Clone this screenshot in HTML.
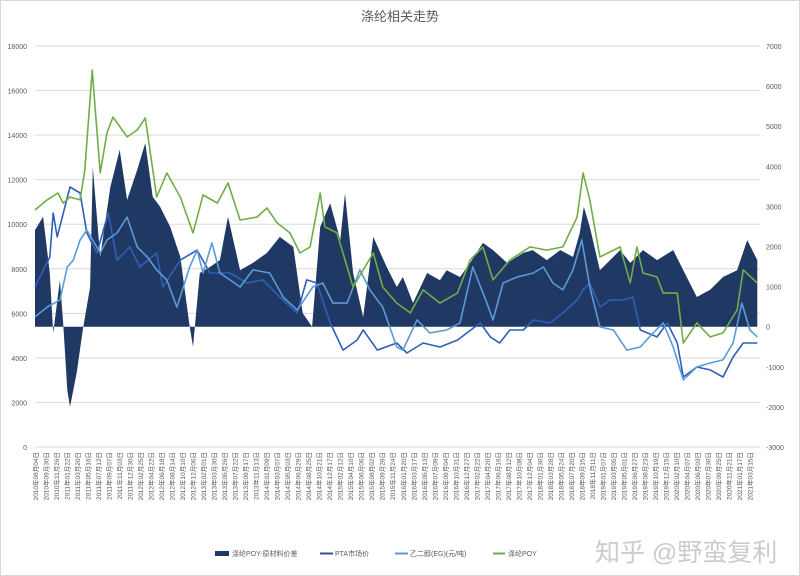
<!DOCTYPE html>
<html><head><meta charset="utf-8"><style>
html,body{margin:0;padding:0;background:#fff;}
#wrap{position:relative;width:800px;height:576px;overflow:hidden;font-family:"Liberation Sans","Noto Sans CJK SC",sans-serif;}
svg text{font-family:"Liberation Sans","Noto Sans CJK SC",sans-serif;}
</style></head><body>
<div id="wrap">
<svg id="chart" width="800" height="576">
<rect x="0.5" y="0.5" width="799" height="575" fill="#fff" stroke="#d9d9d9"/>
<text x="400" y="21" text-anchor="middle" font-size="13" fill="#595959">涤纶相关走势</text>
<g id="grid"></g>
<g id="area"></g>
<g id="lines"></g>
<g id="yl"></g>
<g id="yr"></g>
<g id="xl"></g>
<g>
 <g><rect x="215" y="551" width="14" height="5" fill="#203864"/><text x="232" y="556" font-size="7" fill="#595959">涤纶POY-原材料价差</text></g>
 <g><line x1="320" y1="553.5" x2="333" y2="553.5" stroke="#2f5597" stroke-width="2"/><text x="335" y="556" font-size="7" fill="#595959">PTA市场价</text></g>
 <g><line x1="395" y1="553.5" x2="408" y2="553.5" stroke="#5b9bd5" stroke-width="2"/><text x="410" y="556" font-size="7" fill="#595959">乙二醇(EG)(元/吨)</text></g>
 <g><line x1="493" y1="553.5" x2="505" y2="553.5" stroke="#70ad47" stroke-width="2"/><text x="508" y="556" font-size="7" fill="#595959">涤纶POY</text></g>
</g>
<text x="595" y="561" font-size="25" fill="rgba(140,140,140,0.45)">知乎 @野蛮复利</text>
</svg>
</div>
<script>
const leftTicks=[0,2000,4000,6000,8000,10000,12000,14000,16000,18000];
const rightTicks=[-3000,-2000,-1000,0,1000,2000,3000,4000,5000,6000,7000];
const poyYears=[2010.59,2010.77,2010.93,2011.01,2011.11,2011.26,2011.33,2011.44,2011.56,2011.66,2011.75,2011.96,2012.11,2012.23,2012.40,2012.55,2012.75,2012.94,2013.09,2013.30,2013.46,2013.64,2013.89,2014.04,2014.19,2014.38,2014.53,2014.68,2014.83,2014.90,2015.08,2015.32,2015.62,2015.76,2015.97,2016.17,2016.36,2016.61,2016.87,2017.06,2017.25,2017.40,2017.65,2017.95,2018.20,2018.44,2018.65,2018.74,2018.84,2018.99,2019.29,2019.44,2019.54,2019.63,2019.84,2019.93,2020.14,2020.23,2020.43,2020.63,2020.82,2021.03,2021.12,2021.33];
const poyValues=[10640,11090,11400,10950,11220,11090,12430,16920,12300,14100,14810,13920,14230,14770,11220,12300,11220,9610,11310,10950,11850,10190,10320,10730,10060,9610,8710,8980,11400,9880,9610,7180,8710,7180,6460,6020,7050,6460,6910,8390,8980,7500,8390,8980,8840,8980,10320,12300,11090,8530,8980,7360,8980,7810,7630,6910,6910,4670,5570,4940,5120,6150,7950,7360];
const ptaYears=[2010.59,2010.81,2010.86,2010.92,2011.11,2011.26,2011.36,2011.51,2011.68,2011.81,2012.00,2012.15,2012.40,2012.49,2012.75,2013.00,2013.19,2013.49,2013.74,2013.98,2014.23,2014.49,2014.63,2014.78,2014.98,2015.17,2015.38,2015.47,2015.68,2015.97,2016.12,2016.36,2016.61,2016.87,2017.21,2017.36,2017.50,2017.65,2017.85,2018.00,2018.25,2018.44,2018.65,2018.74,2018.84,2018.99,2019.14,2019.33,2019.48,2019.59,2019.84,2019.99,2020.14,2020.23,2020.43,2020.63,2020.82,2020.97,2021.12,2021.33];
const ptaValues=[7180,8530,10500,9430,11670,11400,9610,8710,10500,8390,8980,8080,8710,7180,8390,8840,7810,7810,7360,7500,6730,6020,7500,7360,5570,4350,4800,5250,4350,4670,4220,4670,4490,4800,5570,4940,4670,5250,5250,5700,5570,6020,6600,7050,7360,6280,6600,6600,6730,5250,4940,5570,4670,3140,3590,3460,3140,4040,4670,4670];
const egYears=[2010.59,2010.77,2010.96,2011.07,2011.16,2011.26,2011.36,2011.45,2011.56,2011.66,2011.81,2011.96,2012.11,2012.26,2012.40,2012.55,2012.70,2012.89,2013.00,2013.09,2013.22,2013.34,2013.49,2013.64,2013.83,2014.08,2014.28,2014.49,2014.72,2014.87,2015.02,2015.23,2015.42,2015.57,2015.76,2015.97,2016.06,2016.27,2016.46,2016.71,2016.91,2017.10,2017.31,2017.40,2017.55,2017.76,2018.00,2018.15,2018.29,2018.44,2018.59,2018.72,2018.84,2018.99,2019.19,2019.39,2019.59,2019.78,2019.93,2020.08,2020.23,2020.43,2020.63,2020.82,2020.97,2021.10,2021.22,2021.33];
const egValues=[5840,6280,6600,8080,8390,9290,9740,9290,8710,9290,9610,10320,8980,8530,7950,7500,6280,8080,8840,7810,9160,7810,7500,7180,7950,7810,6730,6150,7180,7360,6460,6460,7950,7050,6280,4490,4350,5700,5120,5250,5570,8080,6460,5700,7360,7630,7810,8080,7360,7050,7950,9290,7180,5390,5250,4350,4490,5120,5570,4490,3010,3590,3770,3910,4670,6460,5250,4940];
const spreadYears=[2010.59,2010.71,2010.81,2010.86,2010.96,2011.01,2011.07,2011.11,2011.21,2011.30,2011.41,2011.45,2011.56,2011.71,2011.85,2011.96,2012.11,2012.23,2012.34,2012.45,2012.60,2012.75,2012.89,2012.94,2013.04,2013.19,2013.34,2013.46,2013.64,2013.83,2014.04,2014.23,2014.43,2014.57,2014.71,2014.83,2014.98,2015.13,2015.20,2015.32,2015.47,2015.62,2015.82,2015.97,2016.06,2016.21,2016.42,2016.61,2016.71,2016.91,2017.06,2017.25,2017.40,2017.61,2017.85,2017.99,2018.20,2018.40,2018.59,2018.69,2018.75,2018.84,2018.99,2019.29,2019.44,2019.63,2019.84,2020.08,2020.23,2020.43,2020.63,2020.82,2021.03,2021.18,2021.33];
const spreadValues=[2410,2740,1340,-160,1160,90,-1580,-2000,-1150,-80,990,3980,1740,3480,4410,3160,3910,4580,3240,2990,2490,1740,0,-500,1340,1490,1660,2740,1410,1590,1840,2240,1990,340,0,2490,3080,2160,3330,1340,240,2240,1490,990,1240,590,1340,1160,1410,1240,1590,2090,1910,1590,1840,1910,1660,1910,1740,2340,2990,2490,1410,1910,1590,1910,1660,1910,1410,740,920,1240,1410,2160,1660];
const startDate=new Date(2010,7,4), labelCount=69, labelStepDays=57;

const X0=35,X1=760,YT=46,YB=447,T0=2010.59,T1=2021.37;
const NS='http://www.w3.org/2000/svg';
function xs(t){return X0+(t-T0)/(T1-T0)*(X1-X0);}
function yL(v){return YB-(v/18000)*(YB-YT);}
function yR(v){return YB-((v+3000)/10000)*(YB-YT);}
function mk(tag,attrs,parent){const e=document.createElementNS(NS,tag);for(const k in attrs)e.setAttribute(k,attrs[k]);parent.appendChild(e);return e;}
const grid=document.getElementById('grid'),yl=document.getElementById('yl'),yr=document.getElementById('yr'),xl=document.getElementById('xl');
leftTicks.forEach(v=>{
  const l=mk('line',{x1:X0,x2:X1,y1:yL(v),y2:yL(v),stroke:'#d9d9d9','stroke-width':1},grid);
  
  
  const t=mk('text',{x:27,y:yL(v)+3,'text-anchor':'end','font-size':7,fill:'#595959'},yl);
  t.textContent=v;
  
  
});
rightTicks.forEach(v=>{
  const t=mk('text',{x:766,y:yR(v)+3,'font-size':7,fill:'#595959'},yr);
  t.textContent=v;
  
  
});
let d='M'+xs(spreadYears[0])+','+yR(0);
spreadYears.forEach((t,i)=>{d+=' L'+xs(t).toFixed(1)+','+yR(spreadValues[i]).toFixed(1);});
d+=' L'+xs(spreadYears[spreadYears.length-1])+','+yR(0)+' Z';
const ap=mk('path',{d:d,fill:'#203864'},document.getElementById('area'));


function line(ys,vs,color,name){
  const p=ys.map((t,i)=>xs(t).toFixed(1)+','+yL(vs[i]).toFixed(1)).join(' ');
  const e=mk('polyline',{points:p,fill:'none',stroke:color,'stroke-width':1.6,'stroke-linejoin':'round'},document.getElementById('lines'));
  
  
}
line(ptaYears,ptaValues,'#2f5fb8','pta-line');
line(egYears,egValues,'#5b9bd5','eg-line');
line(poyYears,poyValues,'#70ad47','poy-line');
const span=(X1-X0)/labelCount;
for(let i=0;i<labelCount;i++){
  const dt=new Date(startDate.getTime()+i*labelStepDays*86400000);
  const s=dt.getFullYear()+'年'+String(dt.getMonth()+1).padStart(2,'0')+'月'+String(dt.getDate()).padStart(2,'0')+'日';
  const x=X0+3+i*span;
  const t=mk('text',{x:0,y:0,'font-size':6.5,fill:'#595959','text-anchor':'end',transform:'translate('+x.toFixed(1)+',452) rotate(-90)'},xl);
  t.textContent=s;
  
  
}
</script>
</body></html>
